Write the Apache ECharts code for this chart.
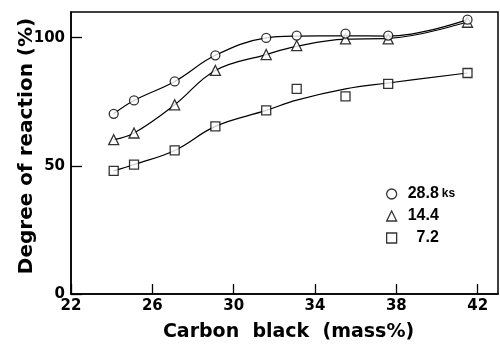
<!DOCTYPE html>
<html><head><meta charset="utf-8">
<script src="https://cdn.jsdelivr.net/npm/echarts@6/dist/echarts.min.js"></script>
<style>html,body{margin:0;padding:0;background:#fff}#c{width:500px;height:349px}</style>
</head><body><div id="c"></div>
<script>
const carbon = [24.1, 25.1, 27.1, 29.1, 31.6, 33.1, 35.5, 37.6, 41.5];
const deg288 = [70.3, 75.5, 82.9, 93.1, 99.9, 100.8, 101.6, 100.8, 107.0];
const deg144 = [60.2, 62.8, 73.8, 87.2, 93.4, 96.9, 99.5, 99.5, 106.0];
const deg72 = [48.0, 50.5, 56.0, 65.4, 71.6, 80.0, 77.1, 82.0, 86.2];
const curve288 = [70.3, 75.5, 82.9, 93.1, 99.9, 100.6, 100.7, 100.6, 107.0];
const curve144 = [60.2, 62.8, 73.8, 87.2, 93.4, 96.6, 99.4, 99.7, 106.2];
const curve72 = [48.0, 50.5, 56.0, 65.4, 71.6, 75.6, 80.0, 82.3, 86.2];
const seriesNames = ['28.8', '14.4', '7.2'];

const pts = (ys) => carbon.map((x, i) => [x, ys[i]]);
const FONT = "'Liberation Sans', Arial, Helvetica, sans-serif";
const DFONT = "'DejaVu Sans', sans-serif";
const mk = { color: '#fff', borderColor: '#000', borderWidth: 1.3 };
const curve = (ys) => ({ type: 'line', data: pts(ys), smooth: 0.4, symbol: 'none',
  lineStyle: { color: '#000', width: 1.2 }, z: 2, silent: true });

const chart = echarts.init(document.getElementById('c'));
chart.setOption({
  animation: false,
  backgroundColor: '#fff',
  grid: { left: 71, right: 2, top: 12, bottom: 55, outerBoundsMode: 'none', containLabel: false,
    show: true, borderColor: '#000', borderWidth: 1.5, backgroundColor: 'transparent' },
  xAxis: {
    type: 'value', min: 22, max: 43, interval: 4,
    name: 'Carbon  black  (mass%)', nameLocation: 'middle', nameGap: 29, nameMoveOverlap: false,
    nameTextStyle: { fontFamily: DFONT, fontSize: 19, fontWeight: 'bold', color: '#000', padding: [0, 0, 0, 8] },
    axisLine: { show: true, lineStyle: { color: '#000', width: 1.5 } },
    axisTick: { show: true, inside: true, length: 10, lineStyle: { color: '#000', width: 1.3 } },
    axisLabel: { showMaxLabel: false, margin: 5, fontFamily: DFONT, fontSize: 15, fontWeight: 'bold', color: '#000' },
    splitLine: { show: false }
  },
  yAxis: {
    type: 'value', min: 0, max: 110, interval: 50,
    name: 'Degree of reaction (%)', nameLocation: 'middle', nameGap: 34, nameMoveOverlap: false,
    nameTextStyle: { fontFamily: DFONT, fontSize: 20, fontWeight: 'bold', color: '#000', padding: [0, 0, 0, 14] },
    axisLine: { show: true, lineStyle: { color: '#000', width: 1.5 } },
    axisTick: { show: true, inside: true, length: 11, lineStyle: { color: '#000', width: 1.3 } },
    axisLabel: { showMaxLabel: false, margin: 6, fontFamily: DFONT, fontSize: 15, fontWeight: 'bold', color: '#000' },
    splitLine: { show: false }
  },
  legend: {
    orient: 'vertical', left: 381, top: 181, itemWidth: 10, itemHeight: 10, itemGap: 6,
    selectedMode: false,
    itemStyle: { color: '#fff', borderColor: '#000', borderWidth: 1.3 },
    data: [
      { name: seriesNames[0], icon: 'circle' },
      { name: seriesNames[1], icon: 'triangle' },
      { name: seriesNames[2], icon: 'rect' }
    ],
    formatter: (n) => n === '28.8' ? '{a|28.8}{b|ks}' : (n === '7.2' ? '{a|  7.2}' : '{a|' + n + '}'),
    textStyle: {
      rich: {
        a: { fontFamily: FONT, fontSize: 16, fontWeight: 'bold', color: '#000', lineHeight: 17, padding: [0, 0, 0, 6] },
        b: { fontFamily: FONT, fontSize: 12, fontWeight: 'bold', color: '#000', lineHeight: 17, padding: [0, 0, 0, 3] }
      }
    }
  },
  series: [
    curve(curve72), curve(curve144), curve(curve288),
    { name: seriesNames[2], type: 'scatter', data: pts(deg72), symbol: 'rect', symbolSize: 9, itemStyle: mk, z: 5 },
    { name: seriesNames[1], type: 'scatter', data: pts(deg144), symbol: 'triangle', symbolSize: 10, itemStyle: mk, z: 5 },
    { name: seriesNames[0], type: 'scatter', data: pts(deg288), symbol: 'circle', symbolSize: 9, itemStyle: mk, z: 6 }
  ]
});
</script></body></html>
